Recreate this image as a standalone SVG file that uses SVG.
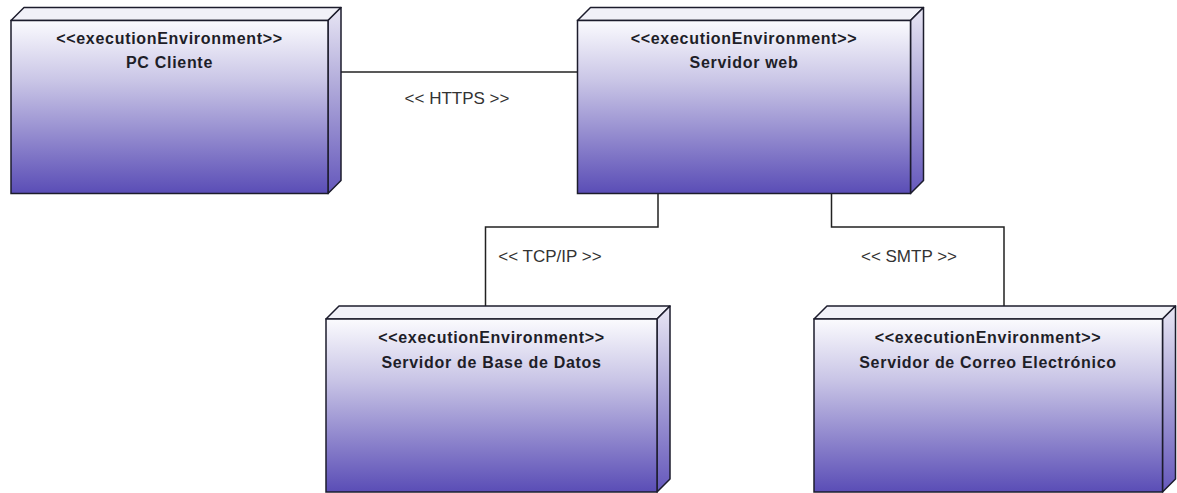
<svg xmlns="http://www.w3.org/2000/svg" width="1177" height="493" viewBox="0 0 1177 493">
  <style>
    .front { fill: url(#frontGrad); stroke: #1c1c2c; stroke-width: 1.5; }
    .top { fill: #f1f1f8; stroke: #1c1c2c; stroke-width: 1.5; stroke-linejoin: round; }
    .side { fill: url(#sideGrad); stroke: #1c1c2c; stroke-width: 1.5; stroke-linejoin: round; }
    .stereo, .name { font-family: "Liberation Sans", Arial, sans-serif; font-weight: bold; font-size: 16px; letter-spacing: 0.7px; fill: #1e1e28; text-anchor: middle; }
    .conn { fill: none; stroke: #222; stroke-width: 1.5; }
    .lbl { font-family: "Liberation Sans", Arial, sans-serif; font-size: 17px; fill: #333; text-anchor: middle; }
  </style>
  <defs>
    <linearGradient id="frontGrad" x1="0" y1="0" x2="0" y2="1">
      <stop offset="0" stop-color="#fbfbfe"/>
      <stop offset="0.35" stop-color="#c9c5e6"/>
      <stop offset="0.7" stop-color="#8d84cc"/>
      <stop offset="1" stop-color="#5a4db6"/>
    </linearGradient>
    <linearGradient id="sideGrad" x1="0" y1="0" x2="0" y2="1">
      <stop offset="0" stop-color="#e8e6f4"/>
      <stop offset="0.4" stop-color="#b3addb"/>
      <stop offset="1" stop-color="#6558bc"/>
    </linearGradient>
  </defs>
  <rect width="1177" height="493" fill="#ffffff"/>

  <!-- connectors -->
  <g id="connectors">
    <line class="conn" x1="341" y1="72" x2="577.5" y2="72"/>
    <text class="lbl" x="457" y="104">&lt;&lt; HTTPS &gt;&gt;</text>
    <polyline class="conn" points="658,193.5 658,227 485.5,227 485.5,306"/>
    <text class="lbl" x="550" y="262">&lt;&lt; TCP/IP &gt;&gt;</text>
    <polyline class="conn" points="831.5,193.5 831.5,227 1004,227 1004,306"/>
    <text class="lbl" x="909" y="262">&lt;&lt; SMTP &gt;&gt;</text>
  </g>

  <!-- PC Cliente: front 11..328 x 20.5..193.5 -->
  <g id="pc-cliente">
    <polygon class="top" points="11,20.5 24,7.5 341,7.5 328,20.5"/>
    <polygon class="side" points="328,20.5 341,7.5 341,180.5 328,193.5"/>
    <rect class="front" x="11" y="20.5" width="317" height="173"/>
    <text class="stereo" x="169.5" y="43.5">&lt;&lt;executionEnvironment&gt;&gt;</text>
    <text class="name" x="169.5" y="68">PC Cliente</text>
  </g>

  <!-- Servidor web -->
  <g id="servidor-web">
    <polygon class="top" points="577.5,20.5 590.5,7.5 923.5,7.5 910.5,20.5"/>
    <polygon class="side" points="910.5,20.5 923.5,7.5 923.5,180.5 910.5,193.5"/>
    <rect class="front" x="577.5" y="20.5" width="333" height="173"/>
    <text class="stereo" x="744" y="43.5">&lt;&lt;executionEnvironment&gt;&gt;</text>
    <text class="name" x="744" y="68">Servidor web</text>
  </g>

  <!-- Servidor de Base de Datos -->
  <g id="servidor-bd">
    <polygon class="top" points="326,319 339,306 670,306 657,319"/>
    <polygon class="side" points="657,319 670,306 670,479 657,492"/>
    <rect class="front" x="326" y="319" width="331" height="173"/>
    <text class="stereo" x="491.5" y="343">&lt;&lt;executionEnvironment&gt;&gt;</text>
    <text class="name" x="491.5" y="368">Servidor de Base de Datos</text>
  </g>

  <!-- Servidor de Correo Electrónico -->
  <g id="servidor-correo">
    <polygon class="top" points="814,319 827,306 1175.5,306 1162.5,319"/>
    <polygon class="side" points="1162.5,319 1175.5,306 1175.5,479 1162.5,492"/>
    <rect class="front" x="814" y="319" width="348.5" height="173"/>
    <text class="stereo" x="988" y="343">&lt;&lt;executionEnvironment&gt;&gt;</text>
    <text class="name" x="988" y="368">Servidor de Correo Electrónico</text>
  </g>
</svg>
